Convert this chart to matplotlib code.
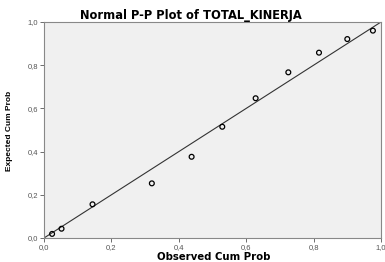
import matplotlib.pyplot as plt

plt.rcParams['font.family'] = ['Liberation Sans', 'DejaVu Sans']

# observed vs expected cumulative probabilities
observed = [0.024, 0.052, 0.144, 0.320, 0.438, 0.529, 0.628, 0.725, 0.816, 0.900, 0.976]
expected = [0.019, 0.043, 0.156, 0.253, 0.376, 0.515, 0.647, 0.767, 0.858, 0.921, 0.960]
ticks = [0.0, 0.2, 0.4, 0.6, 0.8, 1.0]
tick_labels = ['0,0', '0,2', '0,4', '0,6', '0,8', '1,0']

fig = plt.figure(figsize=(3.85, 2.62), dpi=100)
ax = fig.add_axes([44/385, 1 - 238/262, 337/385, 216/262])
ax.set_facecolor('#f0f0f0')

ax.plot([0, 1], [0, 1], color='#333333', linewidth=0.8)
ax.scatter(observed, expected, s=12, facecolors='none', edgecolors='black', linewidths=0.9, zorder=3)

ax.set_xlim(0, 1)
ax.set_ylim(0, 1)
ax.set_xticks(ticks)
ax.set_xticklabels(tick_labels)
ax.set_yticks(ticks)
ax.set_yticklabels(tick_labels)
ax.tick_params(labelsize=5.5, labelcolor='#555555', length=3, width=0.6, color='#555555', pad=1)
for s in ax.spines.values():
    s.set_color('#888888')
    s.set_linewidth(0.8)

wide = ['DejaVu Sans']
fig.text(214/385, 1 - 257/262, 'Observed Cum Prob', fontsize=7.3, fontweight='bold', family=wide, ha='center', va='center')
fig.text(10/385, 1 - 131/262, 'Expected Cum Prob', fontsize=6, fontweight='bold', ha='center', va='center', rotation=90)
fig.text(191/385, 1 - 15/262, 'Normal P-P Plot of TOTAL_KINERJA', fontsize=8.3, fontweight='bold', family=wide, ha='center', va='center')

fig.savefig('out.png', dpi=100)
